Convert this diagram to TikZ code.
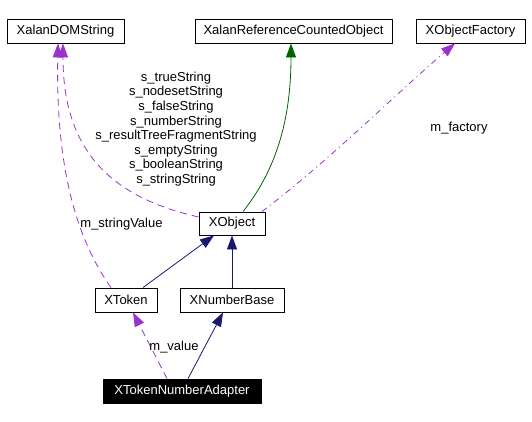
\documentclass[tikz,border=0pt]{standalone}
\usepackage{xcolor}
\usepackage{fontspec}
\setmainfont{Liberation Sans}
\usetikzlibrary{arrows.meta}
\definecolor{usecol}{HTML}{9A32CD}
\definecolor{basecol}{HTML}{191970}
\definecolor{refcol}{HTML}{006400}

\begin{document}
\begin{tikzpicture}[x=1pt, y=-1pt, font=\fontsize{13}{14.6}\selectfont,
		cls/.style={draw, line width=0.9pt, minimum height=24pt, inner sep=0pt},
		inh/.style={basecol, line width=0.8pt, -{Triangle[length=14pt,width=10pt]}},
		use/.style={usecol, line width=0.8pt, dash pattern=on 7pt off 5pt, -{Triangle[length=14pt,width=10pt]}}]
		\useasboundingbox (0,0) rectangle (532,422);
		\node[cls, minimum width=117pt] (domstr) at (65.5,31) {XalanDOMString};
		\node[cls, minimum width=197pt] (refobj) at (293.5,31) {XalanReferenceCountedObject};
		\node[cls, minimum width=109pt] (factory) at (470.5,31) {XObjectFactory};
		\node[cls, minimum width=66pt, minimum height=23pt] (xobj) at (232,223.5) {XObject};
		\node[cls, minimum width=62pt] (xtok) at (126,300) {XToken};
		\node[cls, minimum width=104pt] (numbase) at (232,300) {XNumberBase};
		\node[cls, minimum width=158pt, fill=black, text=white] (adapter) at (182,391) {XTokenNumberAdapter};

		\draw[inh] (xtok.north -| 143,0) -- (xobj.south -| 214,0);
		\draw[inh] (numbase) -- (xobj);
		\draw[refcol, line width=0.8pt, -{Triangle[length=14pt,width=10pt]}] (xobj.north -| 243,0) .. controls (276,170) and (291,120) .. (refobj.south -| 291,0);
		\draw[use] (xobj.west |- 0,217) .. controls (110,197) and (63,150) .. (domstr.south -| 63,0);
		\draw[use] (xtok.north -| 111,0) .. controls (70,230) and (56,150) .. (domstr.south -| 58,0);
		\draw[use, dash pattern=on 6pt off 4pt on 1pt off 4pt] (xobj.north -| 262,0) .. controls (330,160) and (400,90) .. (factory.south -| 455,0);
		\draw[use] (adapter.north -| 167,0) -- (xtok.south -| 133,0);
		\draw[inh] (adapter.north -| 188,0) -- (numbase.south -| 223,0);

		\node[align=center] (statics) at (176,129) {s\_trueString\\s\_nodesetString\\s\_falseString\\s\_numberString\\s\_resultTreeFragmentString\\s\_emptyString\\s\_booleanString\\s\_stringString};
		\node (strval) at (121.5,224) {m\_stringValue};
		\node (fact) at (459,128) {m\_factory};
		\node (val) at (174,347) {m\_value};
	\end{tikzpicture}
\end{document}
